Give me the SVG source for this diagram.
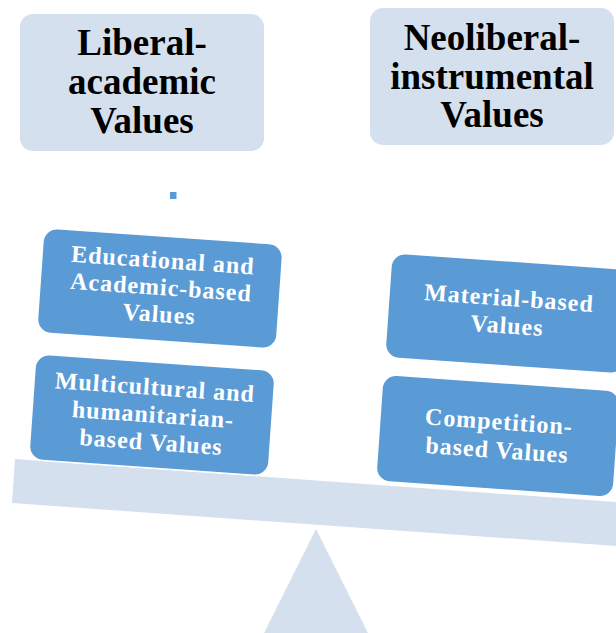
<svg xmlns="http://www.w3.org/2000/svg" width="616" height="633" viewBox="0 0 616 633">
  <style>
    .head { fill: #D5E0EE; }
    .head-text { font-family: "Liberation Serif", "Times New Roman", serif; font-weight: bold; font-size: 37px; fill: #000; text-anchor: middle; }
    .item { fill: #5B9BD5; stroke: #FFFFFF; stroke-width: 1.5; }
    .item-text { font-family: "Liberation Serif", "Times New Roman", serif; font-weight: bold; font-size: 24px; letter-spacing: 1px; fill: #FFFFFF; text-anchor: middle; }
    .scale { fill: #D5E0EE; }
  </style>

  <!-- balance: tilted beam and fulcrum -->
  <g id="balance">
    <polygon class="scale" points="15,459 620,502.3 620,546.3 12,503"/>
    <polygon class="scale" points="316,529 264,633 368,633"/>
  </g>

  <!-- column headers -->
  <g id="liberal-academic">
    <rect class="head" x="20" y="14" width="244" height="137" rx="13"/>
    <text class="head-text" x="142" y="55">Liberal-</text>
    <text class="head-text" x="142" y="94">academic</text>
    <text class="head-text" x="142" y="133">Values</text>
  </g>

  <g id="neoliberal-instrumental">
    <rect class="head" x="370" y="8" width="244" height="137" rx="13"/>
    <text class="head-text" x="492" y="50">Neoliberal-</text>
    <text class="head-text" x="492" y="88.5">instrumental</text>
    <text class="head-text" x="492" y="127">Values</text>
  </g>

  <!-- small marker under the left header -->
  <rect id="marker" x="170" y="192" width="6.5" height="7" fill="#5B9BD5"/>

  <!-- value boxes resting on the beam -->
  <g id="educational-academic" transform="translate(160,288) rotate(4)">
    <rect class="item" x="-120" y="-52" width="240" height="105" rx="14"/>
    <text class="item-text" x="1" y="-20">Educational and</text>
    <text class="item-text" x="1" y="7">Academic-based</text>
    <text class="item-text" x="1" y="34">Values</text>
  </g>

  <g id="multicultural-humanitarian" transform="translate(152,415) rotate(4)">
    <rect class="item" x="-120" y="-53" width="240" height="106" rx="14"/>
    <text class="item-text" x="1" y="-20">Multicultural and</text>
    <text class="item-text" x="1" y="7.5">humanitarian-</text>
    <text class="item-text" x="1" y="35">based Values</text>
  </g>

  <g id="material-based" transform="translate(508,313) rotate(4)">
    <rect class="item" x="-120" y="-52" width="240" height="105" rx="14"/>
    <text class="item-text" x="0" y="-7">Material-based</text>
    <text class="item-text" x="0" y="20.5">Values</text>
  </g>

  <g id="competition-based" transform="translate(498,435.5) rotate(4)">
    <rect class="item" x="-119" y="-53" width="238" height="107" rx="14"/>
    <text class="item-text" x="0" y="-6">Competition-</text>
    <text class="item-text" x="0" y="22.5">based Values</text>
  </g>

  <!-- no connectors in this figure -->
  <g id="connectors"/>
</svg>
